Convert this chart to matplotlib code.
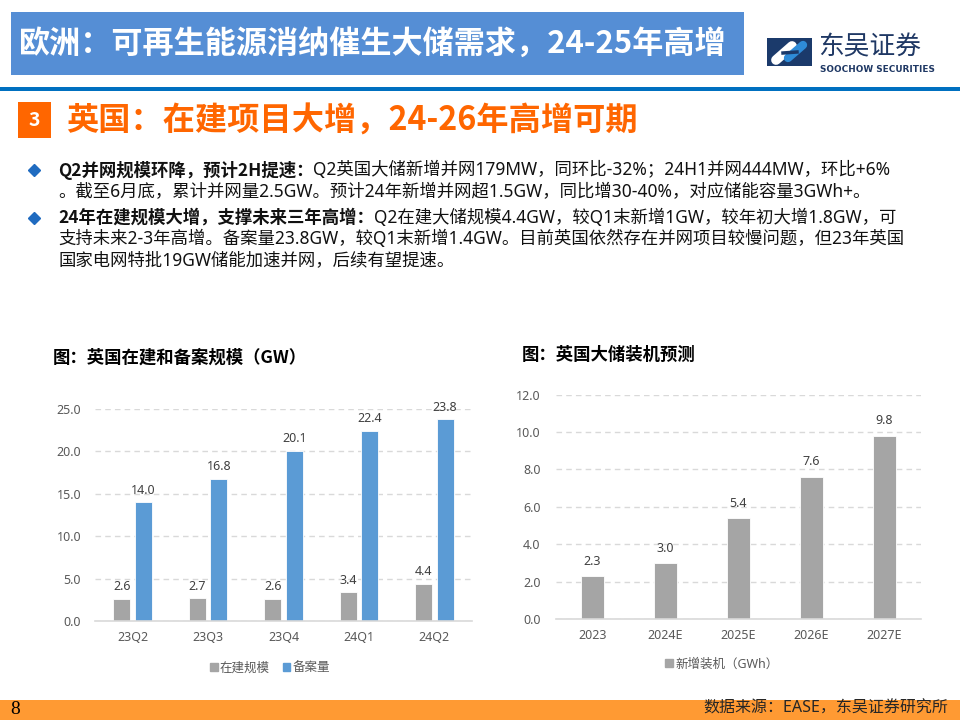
import matplotlib
matplotlib.use("Agg")
import matplotlib.pyplot as plt
from matplotlib.patches import Rectangle, Patch
import numpy as np

plt.rcParams['font.family'] = ['Noto Sans', 'Noto Sans CJK SC', 'DejaVu Sans']
CJK = ['Noto Sans CJK SC', 'DejaVu Sans']
MIX = ['Noto Sans', 'Noto Sans CJK SC', 'DejaVu Sans']

# ---------------- data ----------------
quarters = ['23Q2', '23Q3', '23Q4', '24Q1', '24Q2']
under_construction = [2.6, 2.7, 2.6, 3.4, 4.4]
filed = [14.0, 16.8, 20.1, 22.4, 23.8]
left_yticks = [0, 5, 10, 15, 20, 25]

years = ['2023', '2024E', '2025E', '2026E', '2027E']
new_install = [2.3, 3.0, 5.4, 7.6, 9.8]
right_yticks = [0, 2, 4, 6, 8, 10, 12]

header_title = '欧洲：可再生能源消纳催生大储需求，24-25年高增'
section_title = '英国：在建项目大增，24-26年高增可期'
bullets = [
    ('Q2并网规模环降，预计2H提速：', 'Q2英国大储新增并网179MW，同环比-32%；24H1并网444MW，环比+6%'),
    ('', '。截至6月底，累计并网量2.5GW。预计24年新增并网超1.5GW，同比增30-40%，对应储能容量3GWh+。'),
    ('24年在建规模大增，支撑未来三年高增：', 'Q2在建大储规模4.4GW，较Q1末新增1GW，较年初大增1.8GW，可'),
    ('', '支持未来2-3年高增。备案量23.8GW，较Q1末新增1.4GW。目前英国依然存在并网项目较慢问题，但23年英国'),
    ('', '国家电网特批19GW储能加速并网，后续有望提速。'),
]
left_title = '图：英国在建和备案规模（GW）'
right_title = '图：英国大储装机预测'
left_legend = ['在建规模', '备案量']
right_legend = ['新增装机（GWh）']
source_text = '数据来源：EASE，东吴证券研究所'
page_no = '8'

GRAY = '#A5A5A5'
BLUE = '#5B9BD5'
TICK_C = '#595959'
LBL_C = '#404040'
GRID_C = '#D9D9D9'

W, H = 960, 720
fig = plt.figure(figsize=(W / 100, H / 100), dpi=100)
fig.patch.set_facecolor('white')

bg = fig.add_axes([0, 0, 1, 1])
bg.set_xlim(0, W)
bg.set_ylim(H, 0)
bg.axis('off')

# header box
bg.add_patch(Rectangle((11, 12), 733, 63, facecolor='#558ED5', edgecolor='none'))
bg.text(18, 44, header_title, color='white', fontsize=22.4, fontweight='bold',
        family=CJK, va='center', ha='left')

# logo
bg.add_patch(Rectangle((767, 38), 45, 28, facecolor='#1B3A6B', edgecolor='none'))
bg.plot([776, 792], [60, 46], color='white', lw=7, solid_capstyle='round')
bg.plot([788, 803], [58, 45], color='#2E8BD8', lw=6, solid_capstyle='round')
bg.plot([783, 797], [53, 52], color='#1B3A6B', lw=2.5)
bg.text(818, 47, '东吴证券', color='#1F3864', fontsize=18.5, family=CJK, va='center', ha='left')
bg.text(820, 70, 'SOOCHOW SECURITIES', color='#1F3864', fontsize=6.4, fontweight='bold',
        family=['DejaVu Sans'], va='center', ha='left')

# blue rule
bg.add_patch(Rectangle((0, 87), W, 4, facecolor='#0070C0', edgecolor='none'))

# section header
bg.add_patch(Rectangle((18, 102), 33, 36, facecolor='#FF6600', edgecolor='none'))
bg.text(34.5, 120, '3', color='white', fontsize=14, fontweight='bold', family=CJK,
        va='center', ha='center')
bg.text(66, 121, section_title, color='#FF6600', fontsize=23.2, fontweight='bold',
        family=CJK, va='center', ha='left')

# bullets
renderer = fig.canvas.get_renderer()
line_y = [170, 192, 218, 239, 260]
for (bold, reg), y in zip(bullets, line_y):
    x0 = 58
    if bold:
        t = bg.text(x0, y, bold, fontsize=12.5, fontweight='bold', family=CJK,
                    va='center', ha='left', color='#111111')
        x0 = t.get_window_extent(renderer).x1
        bg.plot([34], [y], marker='D', color='#1F6BC0', markersize=6.5)
    bg.text(x0, y, reg, fontsize=12.5, family=MIX, va='center', ha='left', color='#111111')

# chart titles
bg.text(53, 358, left_title, fontsize=12.5, fontweight='bold', family=CJK, va='center', ha='left', color='#000000')
bg.text(522, 355, right_title, fontsize=12.5, fontweight='bold', family=CJK, va='center', ha='left', color='#000000')

# footer
bg.add_patch(Rectangle((0, 700), W, 20, facecolor='#FF9A33', edgecolor='none'))
bg.text(10, 710, page_no, fontsize=14, family=['Liberation Serif'], va='center', ha='left', color='black')
bg.text(948, 709, source_text, fontsize=11.5, family=MIX, va='center', ha='right', color='#262626')


def style_axis(ax, yticks, pad):
    ax.set_yticks(yticks)
    ax.set_yticklabels([f'{v:.1f}' for v in yticks])
    ax.set_ylim(yticks[0], yticks[-1])
    ax.yaxis.grid(True, linestyle=(0, (4, 3)), color=GRID_C, lw=1)
    ax.set_axisbelow(True)
    for s in ['top', 'right', 'left']:
        ax.spines[s].set_visible(False)
    ax.spines['bottom'].set_color(GRID_C)
    ax.spines['bottom'].set_linewidth(1.2)
    ax.tick_params(axis='both', length=0, colors=TICK_C, labelsize=9)
    ax.tick_params(axis='y', pad=pad)
    ax.tick_params(axis='x', pad=7)
    ax.set_facecolor('none')


# left chart
ax1 = fig.add_axes([95 / W, 1 - 621 / H, (472 - 95) / W, (621 - 409) / H])
x = np.arange(len(quarters))
bw = 0.225
off = 0.143
b1 = ax1.bar(x - off, under_construction, bw, color=GRAY, edgecolor='white', lw=0.6)
b2 = ax1.bar(x + off, filed, bw, color=BLUE, edgecolor='white', lw=0.6)
ax1.set_xlim(-0.5, len(quarters) - 0.5)
ax1.set_xticks(x)
ax1.set_xticklabels(quarters)
style_axis(ax1, left_yticks, 10)
for bars, vals in [(b1, under_construction), (b2, filed)]:
    for r, v in zip(bars, vals):
        ax1.annotate(f'{v:.1f}', (r.get_x() + r.get_width() / 2, v), xytext=(0, 4),
                     textcoords='offset points', ha='center', va='bottom', fontsize=9, color=LBL_C)
ax1.legend([Patch(color=GRAY), Patch(color=BLUE)], left_legend, loc='center',
           bbox_to_anchor=(270 / W, 1 - 668 / H), bbox_transform=fig.transFigure,
           ncol=2, frameon=False, handlelength=0.6, handleheight=0.6, handletextpad=0.2,
           columnspacing=1.0, prop={'family': MIX, 'size': 9}, labelcolor=TICK_C)

# right chart
ax2 = fig.add_axes([556 / W, 1 - 619 / H, (921 - 556) / W, (619 - 394.5) / H])
x2 = np.arange(len(years))
b3 = ax2.bar(x2, new_install, 0.31, color=GRAY, edgecolor='white', lw=0.6)
ax2.set_xlim(-0.5, len(years) - 0.5)
ax2.set_xticks(x2)
ax2.set_xticklabels(years)
style_axis(ax2, right_yticks, 11)
for r, v in zip(b3, new_install):
    ax2.annotate(f'{v:.1f}', (r.get_x() + r.get_width() / 2, v), xytext=(0, 6),
                 textcoords='offset points', ha='center', va='bottom', fontsize=9, color=LBL_C)
ax2.legend([Patch(color=GRAY)], right_legend, loc='center',
           bbox_to_anchor=(722 / W, 1 - 664 / H), bbox_transform=fig.transFigure,
           ncol=1, frameon=False, handlelength=0.6, handleheight=0.6, handletextpad=0.2,
           prop={'family': MIX, 'size': 9}, labelcolor=TICK_C)

fig.savefig('out.png', dpi=100, facecolor='white')
